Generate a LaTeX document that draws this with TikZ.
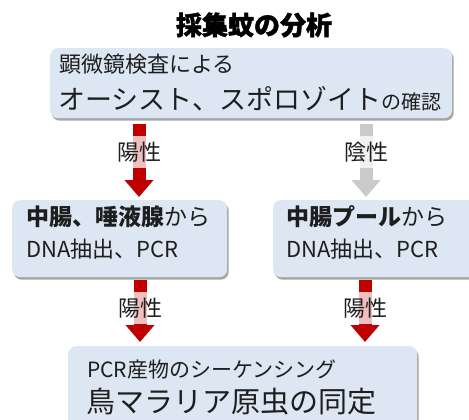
\documentclass[tikz,border=0pt]{standalone}
\usepackage{fontspec}
\setmainfont{Noto Sans CJK JP}
\newfontfamily\titlefont{Noto Sans CJK JP}[BoldFeatures={FakeBold=1.5}]
\usetikzlibrary{arrows.meta,shadows,backgrounds}
\definecolor{boxblue}{RGB}{220,231,243}
\definecolor{arrred}{RGB}{192,0,0}
\definecolor{arrgray}{RGB}{202,202,202}
\definecolor{txtc}{RGB}{30,30,30}
\newcommand{\fs}[1]{\fontsize{#1pt}{#1pt}\selectfont}
\tikzset{
  flowbox/.style={fill=boxblue, rounded corners=8pt, inner sep=0pt,
    drop shadow={shadow xshift=1.5pt, shadow yshift=-2.5pt, fill=black, opacity=0.35}},
  txt/.style={anchor=west, inner sep=0pt, text=txtc},
  lbl/.style={fill=white, fill opacity=0.75, text opacity=1, text=txtc,
    inner xsep=3pt, inner ysep=6pt, font=\fs{22}},
  redarr/.style={draw=arrred, line width=13pt, -{Triangle[width=28pt,length=17pt]}},
  grayarr/.style={draw=arrgray, line width=13pt, -{Triangle[width=28pt,length=17pt]}},
}
\begin{document}
\begin{tikzpicture}[x=1pt,y=-1pt]
\clip (0,0) rectangle (469,420);
% title
\node[inner sep=0pt, text=black] (title) at (254,25) {\titlefont\fs{26}\bfseries 採集蚊の分析};
% boxes
\node[flowbox, anchor=north west, minimum width=402pt, minimum height=70pt] (topbox) at (50,48) {};
\node[flowbox, anchor=north west, minimum width=215pt, minimum height=77pt] (lbox) at (12,200) {};
\node[flowbox, anchor=north west, minimum width=215pt, minimum height=77pt] (rbox) at (273,200) {};
\node[flowbox, anchor=north west, minimum width=349pt, minimum height=90pt] (bbox) at (68,346) {};
% texts
\node[txt] (t1) at (59,64) {\fs{22}顕微鏡検査による};
\node[txt] (t2) at (58,99) {\fs{27}オーシスト、スポロゾイト\fs{20}の確認};
\node[txt] (l1a) at (26,217) {\fs{23}\textbf{中腸、唾液腺}から};
\node[txt] (l1b) at (26,249) {\fs{22}DNA抽出、PCR};
\node[txt] (r1a) at (286,217) {\fs{23}\textbf{中腸プール}から};
\node[txt] (r1b) at (286,249) {\fs{22}DNA抽出、PCR};
\node[txt] (b1) at (87,370) {\fs{21}PCR産物のシーケンシング};
\node[txt] (b2) at (86,402) {\fs{29}鳥マラリア原虫の同定};
% labels
\node[lbl] (lab1) at (139,152) {陽性};
\node[lbl] (lab2) at (366,152) {陰性};
\node[lbl] (lab3) at (140,308) {陽性};
\node[lbl] (lab4) at (365,308) {陽性};
% arrows
\begin{pgfonlayer}{background}
\fill[white] (0,0) rectangle (469,420);
\draw[redarr, shorten <=6pt, shorten >=3pt] (topbox.south -| lab1) -- (lbox.north -| lab1);
\draw[grayarr, shorten <=6pt, shorten >=3pt] (topbox.south -| lab2) -- (rbox.north -| lab2);
\draw[redarr, shorten <=3pt, shorten >=4pt] (lbox.south -| lab3) -- (bbox.north -| lab3);
\draw[redarr, shorten <=3pt, shorten >=4pt] (rbox.south -| lab4) -- (bbox.north -| lab4);
\end{pgfonlayer}
\end{tikzpicture}
\end{document}
